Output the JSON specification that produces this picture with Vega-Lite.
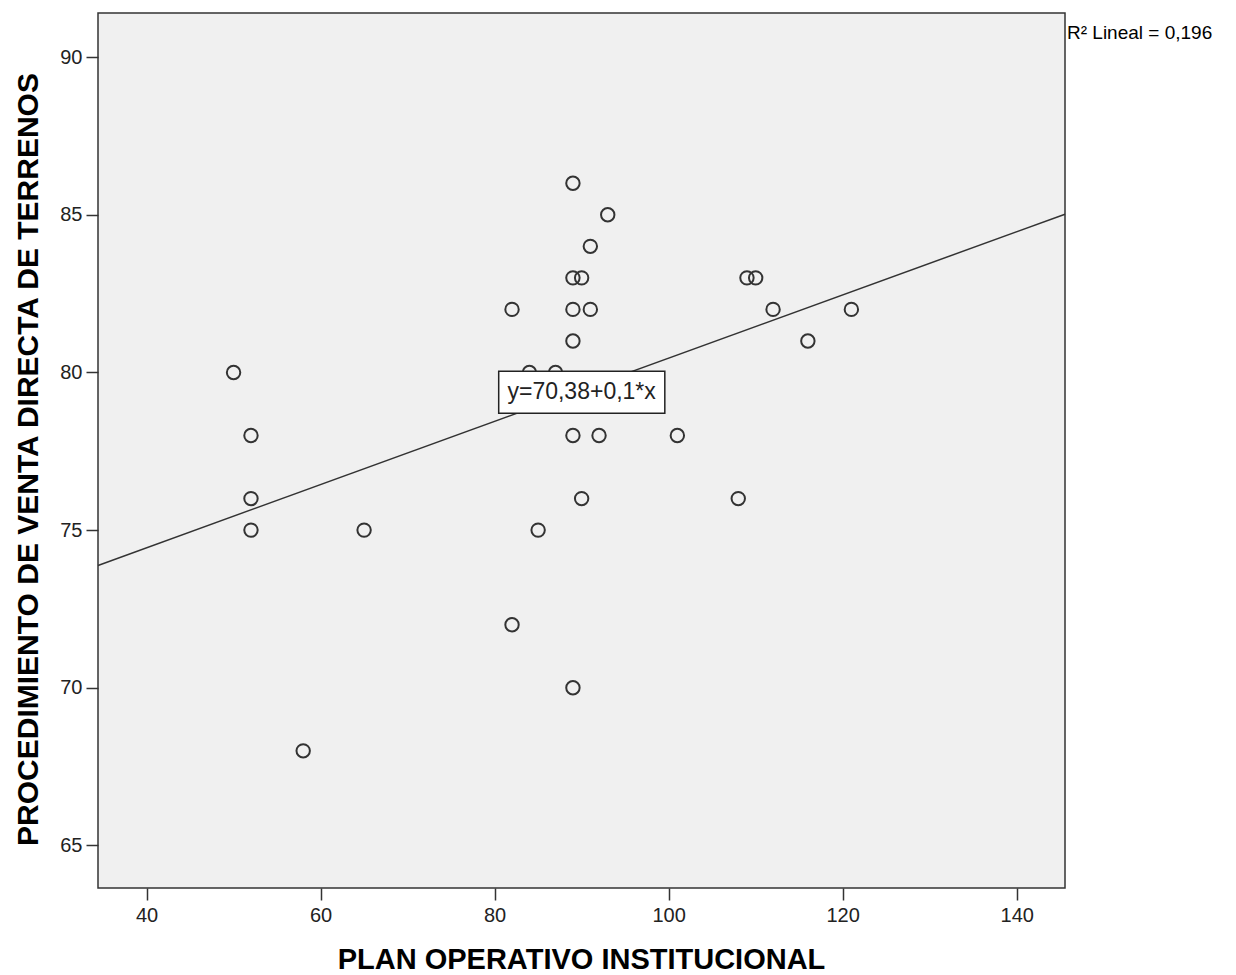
{
  "$schema": "https://vega.github.io/schema/vega-lite/v6.json",
  "autosize": {"type": "none"},
  "padding": {"left": 98, "top": 13, "right": 171, "bottom": 87},
  "width": 967,
  "height": 875,
  "background": "white",
  "config": {
    "view": {"stroke": "#333333", "strokeWidth": 1.5, "fill": "#F0F0F0"},
    "font": "Liberation Sans",
    "axis": {
      "grid": false,
      "domain": false,
      "tickColor": "#333333",
      "tickWidth": 1.5,
      "tickSize": 12,
      "labelFont": "Liberation Sans",
      "labelFontSize": 20,
      "labelColor": "#222222",
      "titleFont": "Liberation Sans",
      "titleFontWeight": "bold",
      "titleFontSize": 30,
      "titleColor": "#000000"
    }
  },
  "encoding": {
    "x": {
      "field": "x",
      "type": "quantitative",
      "scale": {"domain": [34.42, 145.55], "nice": false, "zero": false},
      "axis": {
        "values": [40, 60, 80, 100, 120, 140],
        "labelPadding": 5,
        "title": "PLAN OPERATIVO INSTITUCIONAL",
        "titleFontSize": 29,
        "titleX": 483,
        "titleY": 80,
        "titleAlign": "center",
        "titleBaseline": "alphabetic"
      }
    },
    "y": {
      "field": "y",
      "type": "quantitative",
      "scale": {"domain": [63.65, 91.4], "nice": false, "zero": false},
      "axis": {
        "values": [65, 70, 75, 80, 85, 90],
        "labelPadding": 4,
        "title": "PROCEDIMIENTO DE VENTA DIRECTA DE TERRENOS",
        "titleX": -61,
        "titleY": 446,
        "titleAngle": 270,
        "titleAlign": "center",
        "titleBaseline": "alphabetic"
      }
    }
  },
  "layer": [
    {
      "data": {"values": [
        {"x": 50, "y": 80}, {"x": 52, "y": 78}, {"x": 52, "y": 76}, {"x": 52, "y": 75},
        {"x": 58, "y": 68}, {"x": 65, "y": 75}, {"x": 82, "y": 82}, {"x": 82, "y": 72},
        {"x": 84, "y": 80}, {"x": 87, "y": 80}, {"x": 85, "y": 75}, {"x": 89, "y": 86},
        {"x": 89, "y": 83}, {"x": 90, "y": 83}, {"x": 89, "y": 82}, {"x": 91, "y": 82},
        {"x": 89, "y": 81}, {"x": 89, "y": 78}, {"x": 92, "y": 78}, {"x": 101, "y": 78},
        {"x": 90, "y": 76}, {"x": 89, "y": 70}, {"x": 91, "y": 84}, {"x": 93, "y": 85},
        {"x": 108, "y": 76}, {"x": 109, "y": 83}, {"x": 110, "y": 83}, {"x": 112, "y": 82},
        {"x": 116, "y": 81}, {"x": 121, "y": 82}
      ]},
      "mark": {"type": "point", "shape": "circle", "filled": false, "size": 180, "strokeWidth": 2, "color": "#333333", "opacity": 1}
    },
    {
      "data": {"values": [{"x": 34.42, "y": 73.88}, {"x": 145.55, "y": 85.02}]},
      "mark": {"type": "line", "color": "#333333", "strokeWidth": 1.5}
    },
    {
      "data": {"values": [{"x": 80.47, "x2": 99.56, "y": 80.04, "y2": 78.71}]},
      "mark": {"type": "rect", "fill": "white", "stroke": "#222222", "strokeWidth": 1.5},
      "encoding": {"x2": {"field": "x2"}, "y2": {"field": "y2"}}
    },
    {
      "data": {"values": [{"x": 90.0, "y": 79.38, "label": "y=70,38+0,1*x"}]},
      "mark": {"type": "text", "fontSize": 23, "color": "#222222", "align": "center", "baseline": "middle", "font": "Liberation Sans"},
      "encoding": {"text": {"field": "label"}}
    },
    {
      "data": {"values": [{"x": 145.55, "y": 90.76, "label": "R² Lineal = 0,196"}]},
      "mark": {"type": "text", "fontSize": 19, "color": "#000000", "align": "left", "baseline": "middle", "dx": 2, "font": "Liberation Sans"},
      "encoding": {"text": {"field": "label"}}
    }
  ]
}
